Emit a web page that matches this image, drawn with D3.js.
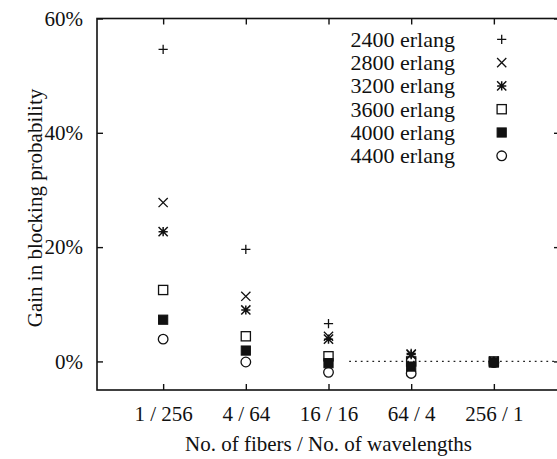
<!DOCTYPE html>
<html lang="en">
<head>
  <meta charset="UTF-8">
  <title>Gain in blocking probability</title>
  <script src="https://d3js.org/d3.v7.min.js"></script>
  <style>
    body {
      margin: 0;
      background: #fff;
    }

    svg text {
      font-family: 'Liberation Serif', 'Times New Roman', serif;
      font-size: 21px;
      fill: #111;
    }
  </style>
</head>
<body>

<svg id="chart" width="557" height="459"></svg>

<script>
    // categories along x (fibers / wavelengths)
    const categories = ['1 / 256', '4 / 64', '16 / 16', '64 / 4', '256 / 1'];
    const yTicks = [0, 20, 40, 60];

    // gain in blocking probability (%) per load
    const loads = ['2400 erlang', '2800 erlang', '3200 erlang', '3600 erlang', '4000 erlang', '4400 erlang'];
    const gain2400 = [54.6, 19.6, 6.6, 1.4, 0];
    const gain2800 = [27.8, 11.4, 4.4, 1.3, 0];
    const gain3200 = [22.7, 9.0, 3.9, 1.2, 0];
    const gain3600 = [12.5, 4.4, 0.9, 0.0, 0];
    const gain4000 = [7.3, 1.9, -0.3, -0.9, -0.2];
    const gain4400 = [3.9, -0.1, -1.9, -2.1, -0.2];
    const series = [gain2400, gain2800, gain3200, gain3600, gain4000, gain4400];

    const margin = { top: 18.5, right: -3, bottom: 69, left: 97 };
    const width = 557 - margin.left - margin.right;
    const height = 459 - margin.top - margin.bottom;

    const x = d3.scaleLinear().domain([0.2, 5.8]).range([0, width]);
    const y = d3.scaleLinear().domain([-5, 60]).range([height, 0]);

    const svg = d3.select('#chart')
      .append('g')
      .attr('transform', 'translate(' + margin.left + ',' + margin.top + ')');

    // marker shapes, gnuplot style (open shapes are not filled)
    const r = 4.6;
    const shapes = [
      // plus
      (g) => g.append('path').attr('d', `M${-r},0H${r}M0,${-r}V${r}`)
              .attr('fill', 'none').attr('stroke', '#111').attr('stroke-width', 1.3),
      // cross
      (g) => g.append('path').attr('d', `M${-r},${-r}L${r},${r}M${-r},${r}L${r},${-r}`)
              .attr('fill', 'none').attr('stroke', '#111').attr('stroke-width', 1.3),
      // star
      (g) => g.append('path').attr('d', `M${-r},0H${r}M0,${-r}V${r}M${-r},${-r}L${r},${r}M${-r},${r}L${r},${-r}`)
              .attr('fill', 'none').attr('stroke', '#111').attr('stroke-width', 1.5),
      // open square
      (g) => g.append('rect').attr('x', -r).attr('y', -r).attr('width', 2 * r).attr('height', 2 * r)
              .attr('fill', 'none').attr('stroke', '#111').attr('stroke-width', 1.3),
      // filled square
      (g) => g.append('rect').attr('x', -r).attr('y', -r).attr('width', 2 * r).attr('height', 2 * r)
              .attr('fill', '#111').attr('stroke', '#111').attr('stroke-width', 1),
      // open circle
      (g) => g.append('circle').attr('r', r + 0.2)
              .attr('fill', 'none').attr('stroke', '#111').attr('stroke-width', 1.3)
    ];

    // dotted zero line
    svg.append('line')
      .attr('x1', x(3.25))
      .attr('x2', width)
      .attr('y1', y(0))
      .attr('y2', y(0))
      .attr('stroke', '#222')
      .attr('stroke-width', 1.3)
      .attr('stroke-dasharray', '1.8,4');

    // points
    series.forEach((vals, si) => {
      svg.append('g').selectAll('g')
        .data(vals)
        .enter().append('g')
        .attr('transform', (d, i) => 'translate(' + x(i + 1) + ',' + y(d) + ')')
        .each(function () { shapes[si](d3.select(this)); });
    });

    // frame
    svg.append('rect')
      .attr('width', width)
      .attr('height', height)
      .attr('fill', 'none')
      .attr('stroke', '#111')
      .attr('stroke-width', 1.6);

    const tickLen = 6;
    const xIdx = categories.map((c, i) => i + 1);

    // bottom axis
    const xAxis = svg.append('g')
      .attr('class', 'axis-x')
      .attr('transform', 'translate(0,' + height + ')')
      .call(d3.axisBottom(x).tickValues(xIdx).tickFormat((d, i) => categories[i])
        .tickSizeInner(-tickLen).tickSizeOuter(0).tickPadding(16));
    xAxis.select('.domain').remove();

    // top axis (ticks only)
    svg.append('g')
      .call(d3.axisTop(x).tickValues(xIdx).tickFormat('').tickSizeInner(-tickLen).tickSizeOuter(0))
      .select('.domain').remove();

    // left axis
    const yAxis = svg.append('g')
      .attr('class', 'axis-y')
      .call(d3.axisLeft(y).tickValues(yTicks).tickFormat(d => d + '%')
        .tickSizeInner(-tickLen).tickSizeOuter(0).tickPadding(14));
    yAxis.select('.domain').remove();

    // right axis (ticks only)
    svg.append('g')
      .attr('transform', 'translate(' + width + ',0)')
      .call(d3.axisRight(y).tickValues(yTicks).tickFormat('').tickSizeInner(-tickLen).tickSizeOuter(0))
      .select('.domain').remove();

    svg.selectAll('.tick line').attr('stroke', '#111').attr('stroke-width', 1.4);
    svg.selectAll('.tick text').attr('fill', '#111').style('font-size', '21px')
      .style('font-family', "'Liberation Serif', serif");

    // axis titles
    svg.append('text')
      .attr('text-anchor', 'middle')
      .attr('x', (x(1) + x(5)) / 2)
      .attr('y', 451 - margin.top)
      .text('No. of fibers / No. of wavelengths');

    svg.append('text')
      .attr('text-anchor', 'middle')
      .attr('transform', 'rotate(-90)')
      .attr('x', -(208 - margin.top))
      .attr('y', 42 - margin.left)
      .text('Gain in blocking probability');

    // legend
    const legend = svg.append('g').attr('class', 'legend');
    loads.forEach((name, i) => {
      const cy = 39.3 + i * 23.3 - margin.top;
      legend.append('text')
        .attr('text-anchor', 'end')
        .attr('x', 455 - margin.left)
        .attr('y', cy + 7.5)
        .style('font-size', '22px')
        .text(name);
      const m = legend.append('g')
        .attr('transform', 'translate(' + (501.7 - margin.left) + ',' + cy + ')');
      shapes[i](m);
    });
  </script>
</body>
</html>
